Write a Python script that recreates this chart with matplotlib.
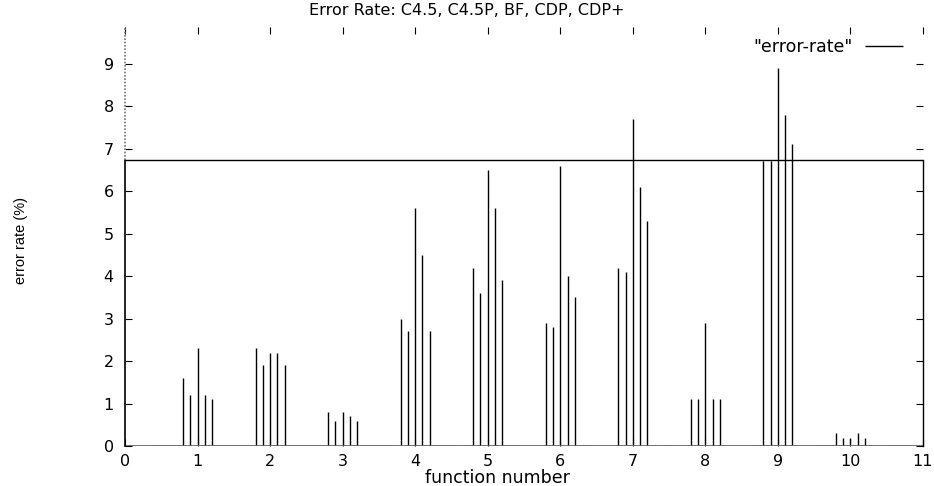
import numpy as np
import matplotlib.pyplot as plt

plt.rcParams['font.family'] = ['DejaVu Sans']

functions = [1, 2, 3, 4, 5, 6, 7, 8, 9, 10]
methods = ['C4.5', 'C4.5P', 'BF', 'CDP', 'CDP+']
offsets = [-0.2, -0.1, 0.0, 0.1, 0.2]
errors = [
    [1.6, 1.2, 2.3, 1.2, 1.1],
    [2.3, 1.9, 2.2, 2.2, 1.9],
    [0.8, 0.6, 0.8, 0.7, 0.6],
    [3.0, 2.7, 5.6, 4.5, 2.7],
    [4.2, 3.6, 6.5, 5.6, 3.9],
    [2.9, 2.8, 6.6, 4.0, 3.5],
    [4.2, 4.1, 7.7, 6.1, 5.3],
    [1.1, 1.1, 2.9, 1.1, 1.1],
    [6.7, 6.7, 8.9, 7.8, 7.1],
    [0.3, 0.2, 0.2, 0.3, 0.2],
]
box_top = 6.72

xs = [f + o for f in functions for o in offsets]
ys = [v for row in errors for v in row]

fig = plt.figure(figsize=(9.34, 4.86), dpi=100)
ax = fig.add_axes([0.1338, 0.0823, 0.8544, 0.8621])

ax.vlines(xs, 0, ys, color='black', lw=1.0, label='"error-rate"')

ax.set_xlim(0, 11)
ax.set_ylim(0, 9.86)
frac = box_top / 9.86

# gnuplot-like frame: box only up to the line, dotted left border above
for s in ax.spines.values():
    s.set_visible(False)
ax.axhline(box_top, color='black', lw=1.0)
ax.axhline(0, color='#555555', lw=1.2)
ax.axhline(0, color='#aaaaaa', lw=1.0, ls=(0, (1, 1)))
ax.axvline(0, ymax=frac, color='black', lw=1.2, clip_on=False)
ax.axvline(0, ymin=frac, color='#777777', lw=1.2, ls=(0, (1, 1)), clip_on=False)
ax.axvline(11, ymax=frac, color='black', lw=1.0, clip_on=False)

ax.set_xticks(range(0, 12))
ax.set_yticks(range(0, 10))
ax.tick_params(direction='in', length=5, width=0.8, top=True, right=True,
               labelsize=11.5)
ax.tick_params(axis='x', pad=6)
ax.tick_params(axis='y', pad=8)

fig.text(0.5, 0.979, 'Error Rate: C4.5, C4.5P, BF, CDP, CDP+', fontsize=11.5,
         ha='center', va='center')
ax.set_xlabel('function number', fontsize=12.5)
ax.xaxis.set_label_coords(0.467, -0.054)
ax.set_ylabel('error rate (%)', fontsize=10.5, family='Liberation Sans')
ax.yaxis.set_label_coords(-0.121, 0.49)

ax.legend(loc='center right', frameon=False, markerfirst=False, fontsize=12.5,
          handlelength=2.2, handletextpad=0.7, borderpad=0, borderaxespad=0,
          bbox_to_anchor=(0.975, 0.952))

fig.savefig('out.png', dpi=100)
